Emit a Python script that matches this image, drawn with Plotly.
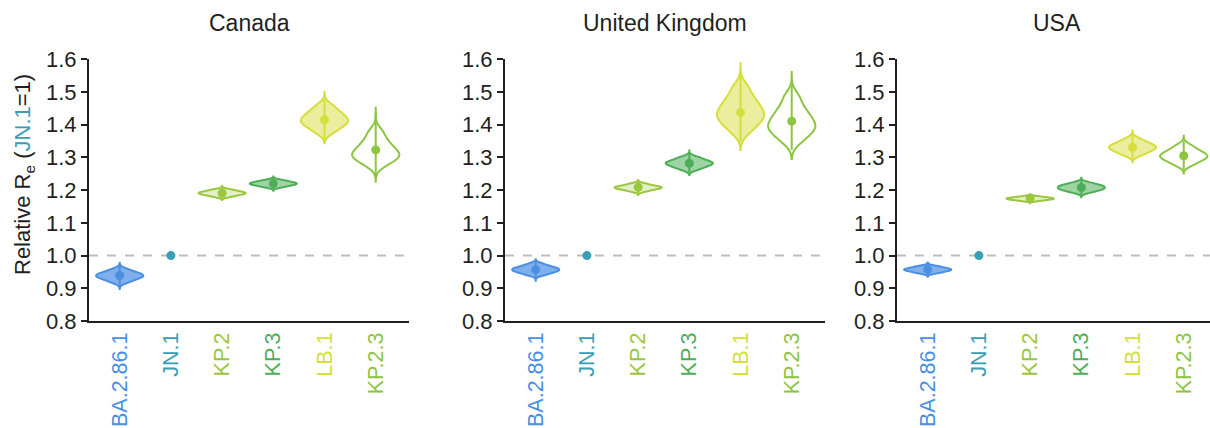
import plotly.graph_objects as go

# Lineages on the x axis and their colours
lineages = ["BA.2.86.1", "JN.1", "KP.2", "KP.3", "LB.1", "KP.2.3"]
line_colors = ["#4a8fe2", "#3a9db5", "#9bc73c", "#4eae57", "#d6de3c", "#8cc540"]
fill_colors = ["rgba(74,143,226,0.70)", "rgba(58,157,181,0.7)", "rgba(155,199,60,0.28)",
               "rgba(78,174,87,0.55)", "rgba(214,222,60,0.50)", "rgba(255,255,255,1)"]

countries = ["Canada", "United Kingdom", "USA"]

# Posterior medians and 95% intervals of relative Re (JN.1 = 1)
median_canada = [0.939, 1.0, 1.191, 1.220, 1.415, 1.323]
ci_lo_canada = [0.906, None, 1.176, 1.204, 1.350, 1.240]
ci_hi_canada = [0.968, None, 1.206, 1.235, 1.480, 1.440]

median_uk = [0.957, 1.0, 1.209, 1.282, 1.437, 1.411]
ci_lo_uk = [0.930, None, 1.190, 1.254, 1.348, 1.323]
ci_hi_uk = [0.982, None, 1.226, 1.312, 1.562, 1.521]

median_usa = [0.957, 1.0, 1.175, 1.208, 1.331, 1.305]
ci_lo_usa = [0.940, None, 1.164, 1.186, 1.295, 1.262]
ci_hi_usa = [0.974, None, 1.184, 1.230, 1.370, 1.350]

# Posterior draws (summarised as quantiles) used for the violin outlines
draws_canada = {
    "BA.2.86.1": [0.918, 0.926, 0.931, 0.935, 0.938, 0.942, 0.945, 0.950, 0.958],
    "KP.2": [1.180, 1.184, 1.187, 1.189, 1.191, 1.193, 1.195, 1.198, 1.202],
    "KP.3": [1.209, 1.213, 1.216, 1.218, 1.220, 1.222, 1.224, 1.227, 1.231],
    "LB.1": [1.377, 1.392, 1.401, 1.408, 1.415, 1.423, 1.431, 1.442, 1.458],
    "KP.2.3": [1.277, 1.292, 1.301, 1.308, 1.315, 1.326, 1.339, 1.354, 1.379],
}
draws_uk = {
    "BA.2.86.1": [0.941, 0.947, 0.951, 0.954, 0.957, 0.960, 0.963, 0.967, 0.974],
    "KP.2": [1.196, 1.201, 1.204, 1.206, 1.208, 1.210, 1.212, 1.215, 1.220],
    "KP.3": [1.263, 1.270, 1.275, 1.279, 1.282, 1.285, 1.289, 1.294, 1.301],
    "LB.1": [1.379, 1.402, 1.415, 1.427, 1.437, 1.451, 1.466, 1.484, 1.514],
    "KP.2.3": [1.350, 1.371, 1.384, 1.395, 1.405, 1.419, 1.435, 1.454, 1.486],
}
draws_usa = {
    "BA.2.86.1": [0.946, 0.950, 0.953, 0.955, 0.957, 0.959, 0.961, 0.964, 0.968],
    "KP.2": [1.167, 1.170, 1.171, 1.173, 1.174, 1.175, 1.177, 1.178, 1.181],
    "KP.3": [1.193, 1.199, 1.202, 1.205, 1.208, 1.211, 1.214, 1.217, 1.223],
    "LB.1": [1.307, 1.316, 1.322, 1.327, 1.331, 1.335, 1.340, 1.346, 1.356],
    "KP.2.3": [1.277, 1.288, 1.295, 1.300, 1.305, 1.310, 1.316, 1.324, 1.336],
}
# Kernel bandwidth and span (tip-to-tip extent) of each violin
bandwidth_canada = {"BA.2.86.1": 0.0063, "KP.2": 0.0035, "KP.3": 0.0035, "LB.1": 0.0127, "KP.2.3": 0.016}
span_canada = {"BA.2.86.1": [0.898, 0.977], "KP.2": [1.170, 1.213], "KP.3": [1.198, 1.242],
               "LB.1": [1.343, 1.501], "KP.2.3": [1.226, 1.455]}
bandwidth_uk = {"BA.2.86.1": 0.0052, "KP.2": 0.0037, "KP.3": 0.006, "LB.1": 0.02, "KP.2.3": 0.02}
span_uk = {"BA.2.86.1": [0.923, 0.989], "KP.2": [1.185, 1.231], "KP.3": [1.246, 1.321],
           "LB.1": [1.323, 1.588], "KP.2.3": [1.295, 1.564]}
bandwidth_usa = {"BA.2.86.1": 0.0036, "KP.2": 0.0023, "KP.3": 0.0048, "LB.1": 0.0078, "KP.2.3": 0.0092}
span_usa = {"BA.2.86.1": [0.935, 0.979], "KP.2": [1.160, 1.188], "KP.3": [1.178, 1.238],
            "LB.1": [1.285, 1.382], "KP.2.3": [1.251, 1.366]}

y_ticks = [0.8, 0.9, 1.0, 1.1, 1.2, 1.3, 1.4, 1.5, 1.6]

panels = [
    (median_canada, ci_lo_canada, ci_hi_canada, draws_canada, bandwidth_canada, span_canada),
    (median_uk, ci_lo_uk, ci_hi_uk, draws_uk, bandwidth_uk, span_uk),
    (median_usa, ci_lo_usa, ci_hi_usa, draws_usa, bandwidth_usa, span_usa),
]

W, H = 1210, 428
FONT = "Liberation Sans, Arial, sans-serif"
TXT = "#231f20"

# Pixel placement of the three panels
x_domains = [[89 / W, 409 / W], [505 / W, 825 / W], [897 / W, 1.0]]
x_ranges = [[-0.6, 5.65], [-0.6, 5.65], [-0.6, -0.6 + 313 / 51.2]]
y_domain = [1 - 321 / H, 1 - 59.3 / H]

fig = go.Figure()

for p, (med, lo, hi, draws, bw, span) in enumerate(panels):
    xa = "x" if p == 0 else f"x{p + 1}"
    ya = "y" if p == 0 else f"y{p + 1}"
    for i, name in enumerate(lineages):
        if name in draws:
            fig.add_trace(go.Violin(
                x=[name] * len(draws[name]), y=draws[name],
                xaxis=xa, yaxis=ya,
                width=0.92, scalemode="width",
                bandwidth=bw[name], spanmode="manual", span=span[name],
                line=dict(color=line_colors[i], width=2),
                fillcolor=fill_colors[i],
                points=False, box_visible=False, meanline_visible=False,
                showlegend=False, hoverinfo="skip",
            ))
        err = None
        if lo[i] is not None:
            err = dict(type="data", symmetric=False,
                       array=[hi[i] - med[i]], arrayminus=[med[i] - lo[i]],
                       width=0, thickness=2, color=line_colors[i])
        fig.add_trace(go.Scatter(
            x=[name], y=[med[i]], xaxis=xa, yaxis=ya, mode="markers",
            marker=dict(color=line_colors[i], size=9),
            error_y=err, showlegend=False, hoverinfo="skip",
        ))

    tick_text = [f"<span style='color:{c}'>{n}</span>" for n, c in zip(lineages, line_colors)]
    fig.update_layout(**{
        ("xaxis" if p == 0 else f"xaxis{p + 1}"): dict(
            domain=x_domains[p], anchor=ya, type="category",
            categoryorder="array", categoryarray=lineages,
            range=x_ranges[p], tickmode="array", tickvals=lineages, ticktext=tick_text,
            tickangle=-90, ticks="", showgrid=False, zeroline=False,
            showline=True, linecolor=TXT, linewidth=2, automargin=False,
            tickfont=dict(family=FONT, size=21.5), ticklabelstandoff=1,
        ),
        ("yaxis" if p == 0 else f"yaxis{p + 1}"): dict(
            domain=y_domain, anchor=xa, range=[0.8, 1.6],
            tickmode="array", tickvals=y_ticks, ticktext=[f"{v:.1f}" for v in y_ticks],
            ticks="outside", ticklen=6, tickwidth=2, tickcolor=TXT,
            showgrid=False, zeroline=False, automargin=False,
            showline=True, linecolor=TXT, linewidth=2,
            tickfont=dict(family=FONT, size=22, color=TXT),
        ),
    })
    # Reference level JN.1 = 1
    fig.add_shape(type="line", xref=f"{xa} domain", yref=ya, x0=0, x1=1, y0=1.0, y1=1.0,
                  line=dict(color="#bdbdbd", width=2, dash="dash"), layer="below")
    # Panel title
    fig.add_annotation(text=countries[p], xref="paper", yref="paper",
                       x=(x_domains[p][0] + (x_domains[p][0] + 320 / W)) / 2, y=1 - 23 / H,
                       showarrow=False, xanchor="center", yanchor="middle",
                       font=dict(family=FONT, size=23, color=TXT))

fig.add_annotation(
    text="Relative R<sub>e</sub> (<span style='color:#3a9db5'>JN.1</span>=1)",
    xref="paper", yref="paper", x=24 / W, y=1 - 175 / H, textangle=-90,
    showarrow=False, xanchor="center", yanchor="middle",
    font=dict(family=FONT, size=22, color=TXT),
)

fig.update_layout(
    width=W, height=H, margin=dict(l=0, r=0, t=0, b=0, autoexpand=False),
    paper_bgcolor="white", plot_bgcolor="white",
    violinmode="overlay", font=dict(family=FONT, color=TXT),
)

fig.write_html("out.html")
